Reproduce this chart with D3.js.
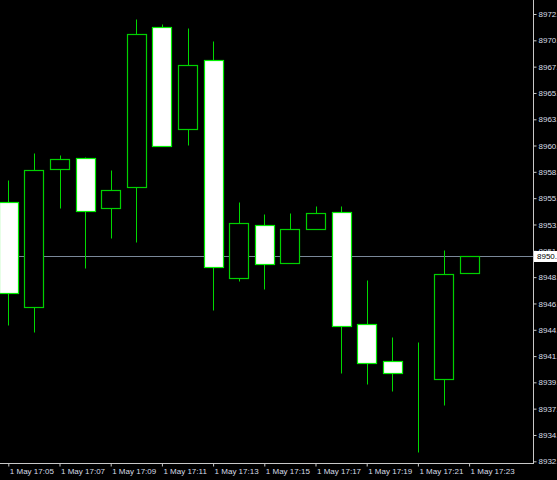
<!DOCTYPE html>
<html>
<head>
<meta charset="utf-8">
<script src="https://cdn.jsdelivr.net/npm/d3@7"></script>
<style>
  html, body { margin: 0; padding: 0; background: #000; }
  svg { display: block; }
  text { font-family: "Liberation Sans", Arial, sans-serif; font-size: 8px; }
</style>
</head>
<body>
<svg id="chart" width="557" height="480"></svg>
<script>
// 1 minute candles, 1 May
const times = ['17:05', '17:06', '17:07', '17:08', '17:09', '17:10', '17:11', '17:12', '17:13', '17:14',
  '17:15', '17:16', '17:17', '17:18', '17:19', '17:20', '17:21', '17:22', '17:23'];
const open  = [8955.60, 8946.14, 8958.58, 8959.57, 8955.06, 8956.95, 8971.37, 8962.18, 8968.40, 8948.76,
  8953.53, 8950.11, 8953.17, 8954.70, 8944.61, 8941.28, 8940.29, 8939.66, 8949.21];
const high  = [8957.59, 8960.02, 8959.84, 8959.66, 8958.49, 8972.09, 8971.64, 8971.28, 8970.11, 8955.60,
  8954.52, 8954.61, 8955.24, 8955.24, 8948.58, 8943.44, 8942.99, 8951.28, 8950.74];
const low   = [8944.52, 8943.89, 8955.06, 8949.66, 8952.36, 8952.00, 8960.65, 8960.74, 8945.87, 8948.49,
  8947.77, 8950.11, 8953.17, 8940.20, 8939.21, 8938.58, 8933.08, 8937.32, 8949.21];
const close = [8947.41, 8958.49, 8959.48, 8954.79, 8956.68, 8970.74, 8960.65, 8967.95, 8949.75, 8953.71,
  8950.02, 8953.17, 8954.61, 8944.43, 8941.10, 8940.20, 8940.29, 8949.12, 8950.74];

const priceTicks = [8972.54, 8970.17, 8967.80, 8965.43, 8963.06, 8960.70, 8958.33, 8955.96, 8953.59,
  8951.22, 8948.85, 8946.48, 8944.11, 8941.74, 8939.38, 8937.01, 8934.64, 8932.27];
const timeTicks = ['17:05', '17:07', '17:09', '17:11', '17:13', '17:15', '17:17', '17:19', '17:21', '17:23'];
const bid = 8950.74;

const svg = d3.select('#chart');
const plotRight = 533.5;
const plotBottom = 463.5;

const parse = d3.timeParse('%H:%M');
const fmt = d3.timeFormat('%H:%M');

const candles = times.map((t, i) => ({
  t: parse(t), o: open[i], h: high[i], l: low[i], c: close[i]
}));

const x = d3.scaleTime()
  .domain([parse('17:05'), parse('17:23')])
  .range([8.3, 469.1]);

const y = d3.scaleLinear()
  .domain([8932.27, 8972.54])
  .range([461.3, 14]);

const half = 9.5;
const px = v => Math.round(v) + 0.5;

svg.append('rect')
  .attr('width', 557)
  .attr('height', 480)
  .attr('fill', '#000');

// bid line
svg.append('line')
  .attr('x1', 0)
  .attr('x2', plotRight)
  .attr('y1', px(y(bid)))
  .attr('y2', px(y(bid)))
  .attr('stroke', '#7a8899')
  .attr('stroke-width', 1);

const candle = svg.append('g')
  .attr('class', 'candles')
  .selectAll('g')
  .data(candles)
  .enter().append('g');

candle.append('line')
  .attr('x1', d => px(x(d.t)))
  .attr('x2', d => px(x(d.t)))
  .attr('y1', d => px(y(d.h)))
  .attr('y2', d => px(y(d.l)))
  .attr('stroke', '#00d800');

candle.append('rect')
  .attr('x', d => px(x(d.t) - half))
  .attr('width', half * 2)
  .attr('y', d => px(y(Math.max(d.o, d.c))))
  .attr('height', d => Math.round(y(Math.min(d.o, d.c))) - Math.round(y(Math.max(d.o, d.c))))
  .attr('fill', d => d.c > d.o ? '#000' : (d.c < d.o ? '#fff' : 'none'))
  .attr('stroke', d => d.c >= d.o ? '#00d000' : '#00f000')
  .attr('stroke-width', 1.2);

// axes frame
svg.append('line')
  .attr('x1', plotRight).attr('x2', plotRight)
  .attr('y1', 0).attr('y2', plotBottom + 0.5)
  .attr('stroke', '#c8c8c8');
svg.append('line')
  .attr('x1', 0).attr('x2', plotRight)
  .attr('y1', plotBottom).attr('y2', plotBottom)
  .attr('stroke', '#c8c8c8');

const yAxis = svg.append('g')
  .attr('transform', `translate(${plotRight},0)`)
  .call(d3.axisRight(y).tickValues(priceTicks).tickSize(3).tickPadding(2).tickFormat(d3.format('.2f')));
yAxis.select('.domain').remove();
yAxis.selectAll('.tick line').attr('stroke', '#c8c8c8');
yAxis.selectAll('.tick text')
  .attr('fill', '#d6dce6')
  .style('font-family', '"Liberation Sans", Arial, sans-serif')
  .style('font-size', '8px');

const xAxis = svg.append('g')
  .attr('transform', `translate(0,${plotBottom})`)
  .call(d3.axisBottom(x).tickValues(timeTicks.map(parse)).tickSize(3).tickFormat(d => '1 May ' + fmt(d)));
xAxis.select('.domain').remove();
xAxis.selectAll('.tick line').attr('stroke', '#c8c8c8');
xAxis.selectAll('.tick text')
  .attr('fill', '#d6dce6')
  .attr('text-anchor', 'start')
  .attr('x', 1)
  .attr('y', 5)
  .style('font-family', '"Liberation Sans", Arial, sans-serif')
  .style('font-size', '8px');

// bid label
const bidY = Math.round(y(bid));
svg.append('rect')
  .attr('x', 534)
  .attr('y', bidY - 5)
  .attr('width', 30)
  .attr('height', 11)
  .attr('fill', '#fff');
svg.append('text')
  .attr('x', 537)
  .attr('y', bidY + 3)
  .attr('fill', '#000')
  .text(d3.format('.2f')(bid));
</script>
</body>
</html>
